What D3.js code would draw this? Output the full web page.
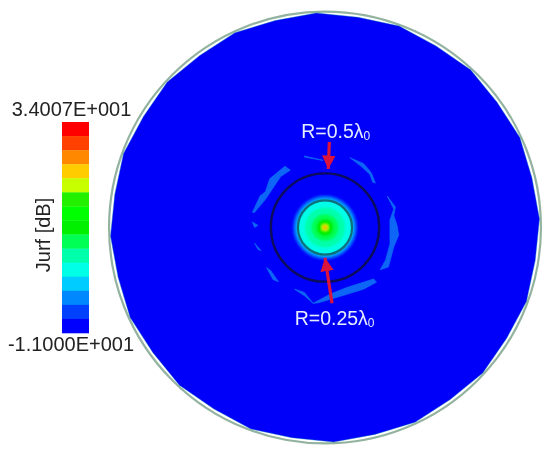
<!DOCTYPE html>
<html><head><meta charset="utf-8">
<script src="https://cdn.jsdelivr.net/npm/d3@7"></script>
<style>html,body{margin:0;padding:0;background:#fff}svg{display:block}text{font-family:"Liberation Sans",Arial,sans-serif}</style>
</head><body><svg id="c" width="550" height="451"></svg>
<script>
const colorBands=["#ff0000","#ff4000","#ff8800","#ffcc00","#c8ff00","#22f000","#00ff00","#00f000","#00ff55","#00ffaa","#00ffe6","#00ccff","#0088ff","#0040ff","#0000ff"];
const minValue=-11.0, maxValue=34.007;
const tickLabels=["3.4007E+001","-1.1000E+001"];
const axisTitle="Jurf [dB]";
const boundaryRadius=1.982, boundaryBulge=1.965, boundaryRim=1.994, boundarySides=16, boundaryTurnDeg=-2.3;
const contourRadii=[0.295,0.27,0.25,0.185,0.125,0.08,0.03,0.014];
const contourColors=["#0066ff","#00aaff","#00ffe6","#00ffaa","#00ff55","#00f000","#e0f000","#ff8800"];
const rings=[0.25,0.5];
const ringColors=["#0e6f7a","#0a0a5c"];
const blobs=[
[[-0.67,0.14],[-0.6,0.29],[-0.55,0.33],[-0.51,0.45],[-0.37,0.565],[-0.32,0.53],[-0.41,0.47],[-0.47,0.38],[-0.55,0.26],[-0.65,0.14]],
[[0.23,0.645],[0.355,0.59],[0.40,0.54],[0.43,0.5],[0.465,0.41],[0.44,0.42],[0.415,0.49],[0.34,0.56]],
[[0.575,0.29],[0.65,0.19],[0.635,0.11],[0.665,0.02],[0.68,-0.07],[0.635,-0.18],[0.585,-0.365],[0.51,-0.39],[0.56,-0.3],[0.6,-0.15],[0.6,-0.06],[0.6,0.07],[0.635,0.17]],
[[-0.11,-0.7],[0.05,-0.615],[0.2,-0.555],[0.45,-0.475],[0.475,-0.505],[0.355,-0.57],[0.11,-0.645],[-0.06,-0.695]],
[[-0.28,-0.57],[-0.19,-0.6],[-0.11,-0.7],[-0.19,-0.63]],
[[-0.54,-0.37],[-0.5,-0.4],[-0.43,-0.5],[-0.48,-0.48]],
[[-0.67,0.05],[-0.62,0.02],[-0.65,0.0]],
[[-0.65,-0.145],[-0.59,-0.215],[-0.62,-0.2]],
[[-0.19,0.65],[-0.02,0.62],[-0.19,0.66]]
];
const blobColor="#0a66f5";
const arrows=[{from:[0.04,0.79],to:[0.03,0.54]},{from:[0.065,-0.7],to:[0.0,-0.28]}];
const notes=[{text:"R=0.5λ",sub:"0",at:[-0.22,0.83]},{text:"R=0.25λ",sub:"0",at:[-0.28,-0.9]}];

const svg=d3.select("#c");
const defs=svg.append("defs");
const blur=(id,s)=>defs.append("filter").attr("id",id).attr("x","-10%").attr("y","-10%").attr("width","120%").attr("height","120%")
 .append("feGaussianBlur").attr("stdDeviation",s);
blur("soft",0.7);blur("soft2",0.9);blur("txt",0.35);
const mk=defs.append("marker").attr("id","ah").attr("viewBox","0 0 10 10").attr("refX",10).attr("refY",5)
 .attr("markerWidth",4.2).attr("markerHeight",4.2).attr("orient","auto").attr("markerUnits","strokeWidth");
mk.append("path").attr("d","M0,0L10,5L0,10Z").attr("fill","#dc143c");

const cx=325,cy=227.5,pxPerUnit=108.3;
const sx=d3.scaleLinear().domain([0,1]).range([cx,cx+pxPerUnit]);
const sy=d3.scaleLinear().domain([0,1]).range([cy,cy-pxPerUnit]);
const sr=d3.scaleLinear().domain([0,1]).range([0,pxPerUnit]);
const plot=svg.append("g");

plot.append("circle").attr("cx",sx(0)).attr("cy",sy(0)).attr("r",sr(boundaryRim))
 .attr("fill","#fff").attr("stroke","#93b3a0").attr("stroke-width",2.2).attr("filter","url(#soft)");
const turn=boundaryTurnDeg*Math.PI/180;
const verts=d3.range(boundarySides*2).map(i=>[turn+i*Math.PI/boundarySides,sr(i%2?boundaryBulge:boundaryRadius)]);
const radial=d3.lineRadial().curve(d3.curveLinearClosed);
plot.append("path").attr("d",radial(verts)).attr("transform",`translate(${cx},${cy})`)
 .attr("fill","#0000fa").attr("stroke","#0a7fb0").attr("stroke-width",0.4).attr("filter","url(#txt)");

const line=d3.line().x(d=>sx(d[0])).y(d=>sy(d[1])).curve(d3.curveLinearClosed);
plot.append("g").attr("filter","url(#soft)").selectAll("path").data(blobs).join("path")
 .attr("d",line).attr("fill",blobColor).attr("stroke",blobColor).attr("stroke-width",0.8).attr("stroke-linejoin","round");

plot.append("g").attr("filter","url(#soft2)").selectAll("circle").data(contourRadii).join("circle")
 .attr("cx",sx(0)).attr("cy",sy(0)).attr("r",d=>sr(d)).attr("fill",(d,i)=>contourColors[i]);
plot.append("g").attr("filter","url(#soft)").selectAll("circle").data(rings).join("circle")
 .attr("cx",sx(0)).attr("cy",sy(0)).attr("r",d=>sr(d)).attr("fill","none")
 .attr("stroke",(d,i)=>ringColors[i]).attr("stroke-width",(d,i)=>i?2.4:2.2);

plot.append("g").selectAll("line").data(arrows).join("line")
 .attr("x1",d=>sx(d.from[0])).attr("y1",d=>sy(d.from[1])).attr("x2",d=>sx(d.to[0])).attr("y2",d=>sy(d.to[1]))
 .attr("stroke","#dc143c").attr("stroke-width",3.2).attr("marker-end","url(#ah)");

const noteT=plot.append("g").attr("filter","url(#txt)").selectAll("text").data(notes).join("text")
 .attr("x",d=>sx(d.at[0])).attr("y",d=>sy(d.at[1])).attr("fill","#e6ecff").attr("font-size",19.5);
noteT.append("tspan").text(d=>d.text);
noteT.append("tspan").text(d=>d.sub).attr("font-size",12).attr("dy",2);

const barX=62,barW=27,barTop=122,barBot=333;
const bar=svg.append("g").attr("filter","url(#txt)");
const y=d3.scaleBand().domain(d3.range(colorBands.length)).range([barTop,barBot]).paddingInner(0);
bar.selectAll("rect").data(colorBands).join("rect").attr("x",barX).attr("y",(d,i)=>y(i))
 .attr("width",barW).attr("height",y.bandwidth()+0.3).attr("fill",d=>d);
const valueAxis=d3.scaleLinear().domain([minValue,maxValue]).range([barBot,barTop]);
const labelVals=[maxValue,minValue];
const lab=svg.append("g").attr("filter","url(#txt)");
lab.selectAll("text").data(labelVals).join("text")
 .attr("x",(d,i)=>i?71:71.5).attr("y",(d,i)=>valueAxis(d)+(i?18:-6)).attr("text-anchor","middle")
 .attr("font-size",20).attr("fill","#222").text((d,i)=>tickLabels[i]);
lab.append("text").attr("transform","translate(50,235) rotate(-90)").attr("text-anchor","middle")
 .attr("font-size",20).attr("fill","#222").text(axisTitle);
</script></body></html>
